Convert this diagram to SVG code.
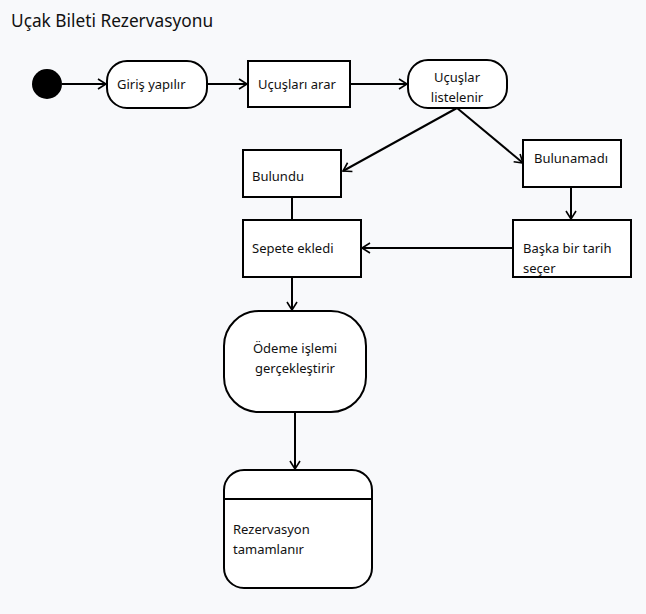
<svg xmlns="http://www.w3.org/2000/svg" width="646" height="614" viewBox="0 0 646 614">
<style>
text{font-family:"Noto Sans","Open Sans",sans-serif;font-size:13px;fill:#111}
.n{fill:#fff;stroke:#000;stroke-width:2}
.c{fill:none;stroke:#000;stroke-width:2}
</style>
<defs>
<marker id="a" markerWidth="12" markerHeight="12" refX="10" refY="6" orient="auto" markerUnits="userSpaceOnUse">
<path d="M2,1 L10,6 L2,11" fill="none" stroke="#000" stroke-width="1.6"/>
</marker>
</defs>
<rect width="646" height="614" fill="#f8f9fb"/>
<text x="11" y="27" style="font-size:17.3px">Uçak Bileti Rezervasyonu</text>
<g id="connectors">
<line class="c" x1="62" y1="84" x2="106" y2="84" marker-end="url(#a)"/>
<line class="c" x1="207" y1="84" x2="247" y2="84" marker-end="url(#a)"/>
<line class="c" x1="350" y1="84" x2="407" y2="84" marker-end="url(#a)"/>
<line class="c" x1="457" y1="108" x2="343" y2="171" marker-end="url(#a)"/>
<line class="c" x1="457" y1="108" x2="523" y2="163" marker-end="url(#a)"/>
<line class="c" x1="292" y1="197" x2="292" y2="220"/>
<line class="c" x1="571" y1="187" x2="571" y2="219" marker-end="url(#a)"/>
<line class="c" x1="513" y1="248" x2="362" y2="248" marker-end="url(#a)"/>
<line class="c" x1="292" y1="277" x2="292" y2="310" marker-end="url(#a)"/>
<line class="c" x1="295" y1="412" x2="295" y2="469" marker-end="url(#a)"/>
</g>
<g id="start"><circle cx="47" cy="84" r="15" fill="#000"/></g>
<g id="giris"><rect class="n" x="107" y="61" width="100" height="47" rx="20"/><text x="117" y="89">Giriş yapılır</text></g>
<g id="ucuslari"><rect class="n" x="248" y="61" width="102" height="46"/><text x="258" y="89">Uçuşları arar</text></g>
<g id="listelenir"><rect class="n" x="408" y="60" width="99" height="48" rx="20"/><text x="457" y="82" text-anchor="middle">Uçuşlar</text><text x="457" y="102" text-anchor="middle">listelenir</text></g>
<g id="bulundu"><rect class="n" x="243" y="150" width="98" height="47"/><text x="252" y="181">Bulundu</text></g>
<g id="bulunamadi"><rect class="n" x="523" y="140" width="98" height="47"/><text x="534" y="163">Bulunamadı</text></g>
<g id="sepete"><rect class="n" x="243" y="220" width="118" height="57"/><text x="252" y="253">Sepete ekledi</text></g>
<g id="baska"><rect class="n" x="513" y="220" width="118" height="57"/><text x="523" y="253">Başka bir tarih</text><text x="523" y="273">seçer</text></g>
<g id="odeme"><rect class="n" x="224" y="311" width="142" height="101" rx="35"/><text x="295" y="353" text-anchor="middle">Ödeme işlemi</text><text x="295" y="373" text-anchor="middle">gerçekleştirir</text></g>
<g id="rezervasyon"><rect class="n" x="224" y="470" width="148" height="118" rx="20"/><line class="c" x1="224" y1="499" x2="372" y2="499"/><text x="233" y="534">Rezervasyon</text><text x="233" y="554">tamamlanır</text></g>
</svg>
